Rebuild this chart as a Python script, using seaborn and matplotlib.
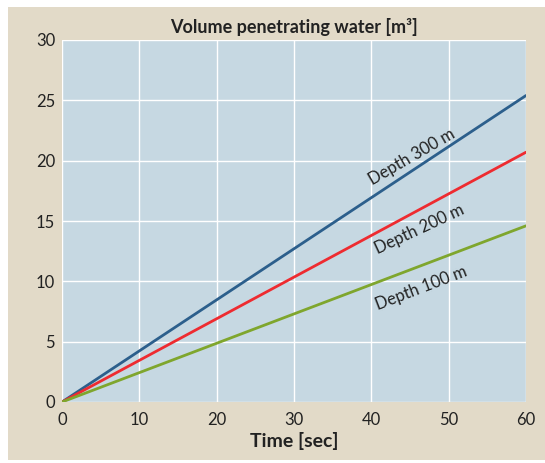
import matplotlib
matplotlib.use("Agg")
import matplotlib.pyplot as plt
import seaborn as sns
import pandas as pd
from matplotlib.patches import Rectangle

time = [0, 60]
depth_300 = [0, 25.4]
depth_200 = [0, 20.7]
depth_100 = [0, 14.6]
series_names = ["Depth 300 m", "Depth 200 m", "Depth 100 m"]
colors = ["#2c5f8c", "#ee2b30", "#7fa62d"]
x_ticks = [0, 10, 20, 30, 40, 50, 60]
y_ticks = [0, 5, 10, 15, 20, 25, 30]

sns.set_theme(style="whitegrid")
plt.rcParams['font.family'] = ['Lato', 'DejaVu Sans']

df = pd.DataFrame({
    "time": time * 3,
    "vol": depth_300 + depth_200 + depth_100,
    "series": [series_names[0]] * 2 + [series_names[1]] * 2 + [series_names[2]] * 2,
})

fig = plt.figure(figsize=(5.45, 4.63), dpi=100, facecolor="white")
fig.patches.append(Rectangle((8 / 545, 0.006), 1, 1 - 7 / 463 - 0.006,
                             transform=fig.transFigure, facecolor="#e2dac8",
                             edgecolor="none", zorder=-10))
ax = fig.add_axes([62 / 545, 1 - 402 / 463, (526 - 62) / 545, (402 - 40) / 463])
ax.set_facecolor("#c6d8e2")

sns.lineplot(data=df, x="time", y="vol", hue="series", palette=colors,
             linewidth=2, ax=ax, legend=False)

ax.set_xlim(0, 60)
ax.set_ylim(0, 30)
ax.set_xticks(x_ticks)
ax.set_yticks(y_ticks)
ax.grid(True, color="white", linewidth=1.0)
for s in ax.spines.values():
    s.set_visible(False)
ax.tick_params(axis="both", labelsize=12, colors="#222222", length=0)
ax.tick_params(axis="x", pad=7)
ax.tick_params(axis="y", pad=5)
ax.set_xlabel("Time [sec]", fontsize=14, fontweight="bold", color="#222222", labelpad=3)
ax.set_ylabel("")
ax.set_title("Volume penetrating water [m³]", fontsize=13, fontweight="bold",
             color="#222222", pad=5)

ax.text(45.2, 20.3, series_names[0], rotation=30, fontsize=12, color="#222222",
        ha="center", va="center")
ax.text(46.2, 14.3, series_names[1], rotation=25, fontsize=12, color="#222222",
        ha="center", va="center")
ax.text(46.5, 9.4, series_names[2], rotation=21, fontsize=12, color="#222222",
        ha="center", va="center")

fig.savefig("out.png", dpi=100, facecolor=fig.get_facecolor())
